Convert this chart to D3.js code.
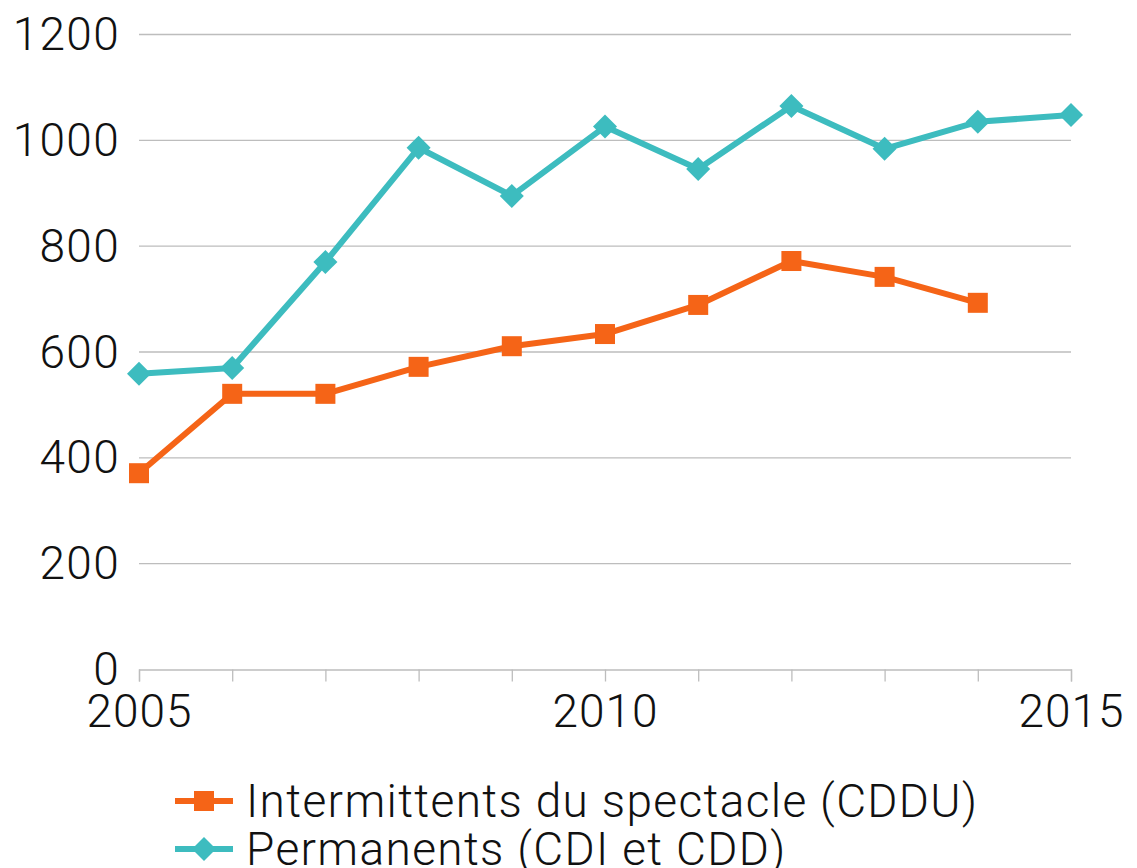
<!DOCTYPE html>
<html>
<head>
<meta charset="utf-8">
<script src="https://cdn.jsdelivr.net/npm/d3@7"></script>
<style>
  body { margin: 0; background: #fff; }
  text { font-family: Roboto, "Noto Sans", sans-serif; font-weight: 300; fill: #111; }
</style>
</head>
<body>
<svg id="canvas" width="1137" height="868"></svg>
<script>
const years = [2005, 2006, 2007, 2008, 2009, 2010, 2011, 2012, 2013, 2014, 2015];
const cdduValues = [370, 520, 520, 571, 610, 633, 688, 771, 741, 692, null];
const permValues = [558, 569, 769, 985, 894, 1025, 945, 1064, 983, 1034, 1047];
const yTicks = [0, 200, 400, 600, 800, 1000, 1200];
const xTicks = [2005, 2010, 2015];
const seriesNames = ["Intermittents du spectacle (CDDU)", "Permanents (CDI et CDD)"];

const orange = "#f56417";
const teal = "#3dbcbf";
const gridColor = "#bdbdbd";

let svg = d3.select("#canvas");

let x = d3.scaleLinear().domain([2005, 2015]).range([139, 1071]);
let y = d3.scaleLinear().domain([0, 1200]).range([669, 34]);

// horizontal grid
svg.append("g")
  .selectAll("line")
  .data(yTicks.filter(d => d > 0))
  .enter()
  .append("line")
  .attr("x1", x(2005))
  .attr("x2", x(2015))
  .attr("y1", d => y(d) + 0.5)
  .attr("y2", d => y(d) + 0.5)
  .attr("stroke", gridColor)
  .attr("stroke-width", 1.3);

// y labels
svg.append("g")
  .selectAll("text")
  .data(yTicks)
  .enter()
  .append("text")
  .attr("x", 120)
  .attr("y", d => y(d) + 16)
  .attr("text-anchor", "end")
  .attr("font-size", 46)
  .attr("letter-spacing", 1.3)
  .text(d => d);

// x axis
let xAxis = d3.axisBottom(x)
  .tickValues(years)
  .tickSize(12)
  .tickFormat(d => xTicks.includes(d) ? d : "");

let gx = svg.append("g")
  .attr("transform", `translate(0,${y(0) + 0.5})`)
  .call(xAxis);
gx.select(".domain").attr("stroke", gridColor).attr("stroke-width", 1.3);
gx.selectAll(".tick line").attr("stroke", gridColor).attr("stroke-width", 1.3);
gx.selectAll(".tick text")
  .attr("font-size", 46)
  .attr("y", 0)
  .attr("dy", 57)
  .attr("letter-spacing", 1)
  .style("font-family", "Roboto, sans-serif")
  .style("font-weight", 300)
  .attr("fill", "#111");

let line = d3.line()
  .defined(d => d[1] != null)
  .x(d => x(d[0]))
  .y(d => y(d[1]));

let cddu = years.map((yr, i) => [yr, cdduValues[i]]).filter(d => d[1] != null);
let perm = years.map((yr, i) => [yr, permValues[i]]);

let diamond = d3.symbol().type(d3.symbolSquare).size(17 * 17);

// permanents
svg.append("path")
  .datum(perm)
  .attr("d", line)
  .attr("fill", "none")
  .attr("stroke", teal)
  .attr("stroke-width", 6)
  .attr("stroke-linejoin", "round");

svg.append("g")
  .selectAll("path")
  .data(perm)
  .enter()
  .append("path")
  .attr("d", diamond)
  .attr("transform", d => `translate(${x(d[0])},${y(d[1])}) rotate(45)`)
  .attr("fill", teal);

// CDDU
svg.append("path")
  .datum(cddu)
  .attr("d", line)
  .attr("fill", "none")
  .attr("stroke", orange)
  .attr("stroke-width", 6)
  .attr("stroke-linejoin", "round");

svg.append("g")
  .selectAll("rect")
  .data(cddu)
  .enter()
  .append("rect")
  .attr("x", d => x(d[0]) - 10)
  .attr("y", d => y(d[1]) - 10)
  .attr("width", 20)
  .attr("height", 20)
  .attr("fill", orange);

// legend
let legend = svg.append("g");
let legendRows = [
  { name: seriesNames[0], color: orange, shape: "square", cy: 801 },
  { name: seriesNames[1], color: teal, shape: "diamond", cy: 849 }
];
legendRows.forEach(r => {
  legend.append("line")
    .attr("x1", 175).attr("x2", 233)
    .attr("y1", r.cy).attr("y2", r.cy)
    .attr("stroke", r.color)
    .attr("stroke-width", 6);
  if (r.shape === "square") {
    legend.append("rect")
      .attr("x", 204 - 10).attr("y", r.cy - 10)
      .attr("width", 20).attr("height", 20)
      .attr("fill", r.color);
  } else {
    legend.append("path")
      .attr("d", diamond)
      .attr("transform", `translate(204,${r.cy}) rotate(45)`)
      .attr("fill", r.color);
  }
  legend.append("text")
    .attr("x", 246)
    .attr("y", r.cy + 16)
    .attr("font-size", 46)
    .attr("letter-spacing", 1.35)
    .text(r.name);
});
</script>
</body>
</html>
